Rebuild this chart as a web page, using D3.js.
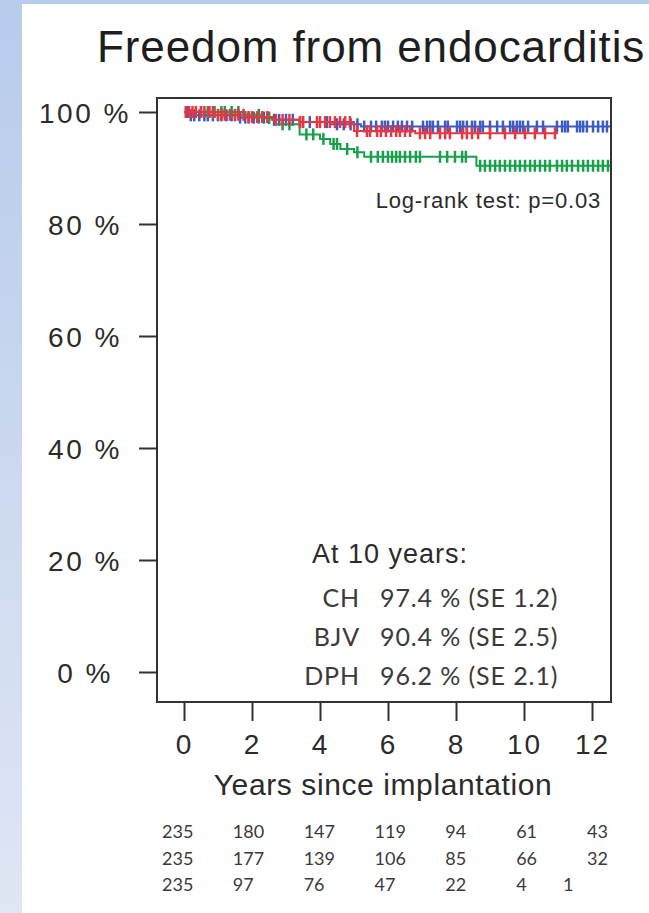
<!DOCTYPE html>
<html>
<head>
<meta charset="utf-8">
<script src="https://cdn.jsdelivr.net/npm/d3@7"></script>
<style>
  html, body { margin: 0; padding: 0; background: #fff; }
  svg { display: block; }
  .axisText { font-family: "Liberation Sans", Arial, sans-serif; fill: #2b2b2b; }
  .calText { font-family: Lato, "Open Sans", sans-serif; fill: #3a3a3a; }
</style>
</head>
<body>
<div id="chart"></div>
<script>
/*global d3*/

// ---- data ----
const groups = ["CH", "BJV", "DPH"];
const yTicks = [0, 20, 40, 60, 80, 100];
const xTicks = [0, 2, 4, 6, 8, 10, 12];

// Kaplan-Meier steps (years, % free)
const chTimes = [0, 0.2, 1.6, 2.6, 3.4, 4.3, 5.2, 12.55];
const chSurv = [100, 99.4, 99.0, 98.6, 98.2, 97.8, 97.4, 97.4];
const bjvTimes = [0, 1.8, 2.3, 2.7, 3.4, 4.0, 4.3, 4.6, 5.0, 5.3, 8.6, 12.55];
const bjvSurv = [100, 99.5, 98.9, 97.8, 96.0, 95.2, 94.3, 93.4, 92.8, 92.0, 90.4, 90.4];
const dphTimes = [0, 0.9, 1.8, 2.6, 3.4, 5.0, 6.8, 11.0];
const dphSurv = [100, 99.5, 99.1, 98.6, 98.2, 96.6, 96.2, 96.2];

// censoring marks (years)
const chCensor = [0.1, 0.2, 0.3, 0.45, 0.6, 0.7, 0.85, 1.0, 1.1, 1.25, 1.4, 1.5, 1.65, 1.8, 1.9,
  2.05, 2.2, 2.35, 2.5, 2.65, 2.8, 3.0, 3.2, 3.5, 3.7, 4.2, 4.5, 4.7, 4.9, 5.1, 5.3, 5.5, 5.65,
  5.82, 5.91, 6.0, 6.15, 6.29, 6.41, 6.56, 6.71, 7.03, 7.15, 7.24, 7.32, 7.47, 7.68, 7.76,
  8.03, 8.12, 8.21, 8.32, 8.47, 8.56, 8.71, 8.79, 9.0, 9.21, 9.38, 9.59, 9.68, 9.79, 9.88,
  9.97, 10.12, 10.38, 10.56, 10.97, 11.12, 11.21, 11.29, 11.56, 11.65, 11.74, 11.85,
  12.03, 12.18, 12.32, 12.44];
const bjvCensor = [0.5, 0.7, 0.9, 1.1, 1.2, 1.4, 1.6, 2.2, 2.5, 2.9, 3.1, 3.6, 3.8, 4.1, 4.4,
  4.5, 4.8, 5.1, 5.5, 5.7, 5.85, 6.0, 6.12, 6.24, 6.35, 6.5, 6.65, 6.82, 6.94, 7.53, 7.74,
  7.97, 8.18, 8.29, 8.71, 8.85, 9.0, 9.15, 9.29, 9.44, 9.59, 9.74, 9.88, 10.03, 10.18,
  10.32, 10.47, 10.62, 10.76, 10.97, 11.12, 11.26, 11.41, 11.59, 11.74, 11.88, 12.03,
  12.18, 12.32, 12.47];
const dphCensor = [0.05, 0.15, 0.25, 0.35, 0.5, 0.6, 0.75, 0.85, 1.0, 1.1, 1.2, 1.35, 1.5,
  1.6, 1.75, 1.9, 2.0, 2.15, 2.3, 2.45, 2.7, 2.9, 3.1, 3.41, 3.5, 3.91, 4.0, 4.15, 4.29,
  4.44, 4.59, 4.74, 4.88, 5.09, 5.38, 5.47, 5.68, 5.79, 5.94, 6.09, 6.24, 6.35, 6.5, 6.65,
  6.94, 7.09, 7.24, 7.53, 7.68, 7.82, 8.18, 8.32, 8.47, 8.65, 9.0, 9.44, 9.74, 10.03,
  10.32, 10.62, 10.91];

// summary at 10 years
const summaryLabels = ["CH", "BJV", "DPH"];
const summaryValues = ["97.4 % (SE 1.2)", "90.4 % (SE 2.5)", "96.2 % (SE 2.1)"];

// numbers at risk
const atRiskYears = [0, 2, 4, 6, 8, 10, 12];
const atRiskCH = [235, 180, 147, 119, 94, 61, 43];
const atRiskBJV = [235, 177, 139, 106, 85, 66, 32];
const atRiskDPH = [235, 97, 76, 47, 22, 4, 1];

// ---- drawing ----
const W = 649, H = 913;
const COLORS = { CH: "#3b5cc4", BJV: "#16a04a", DPH: "#e8363f" };

let svg = d3.select("#chart").append("svg")
  .attr("width", W)
  .attr("height", H);

// blue slide background strip
let grad = svg.append("defs").append("linearGradient")
  .attr("id", "bg").attr("x1", 0).attr("y1", 0).attr("x2", 0).attr("y2", 1);
grad.append("stop").attr("offset", "0%").attr("stop-color", "#b7cbeb");
grad.append("stop").attr("offset", "100%").attr("stop-color", "#dfe6f4");
svg.append("rect").attr("x", 0).attr("y", 0).attr("width", W).attr("height", H).attr("fill", "url(#bg)");
svg.append("rect").attr("x", 22).attr("y", 4).attr("width", W - 22).attr("height", H - 4).attr("fill", "#fff");

// plot box
let box = { left: 157, right: 611, top: 98, bottom: 702 };

let x = d3.scaleLinear().domain([0, 12]).range([184, 592]);
let y = d3.scaleLinear().domain([0, 100]).range([672, 112]);

// title
svg.append("text")
  .attr("class", "axisText")
  .attr("x", 97).attr("y", 62)
  .style("font-size", "44px")
  .style("letter-spacing", "0.9px")
  .style("fill", "#1e1e1e")
  .text("Freedom from endocarditis");

// y axis
let yAxis = svg.append("g")
  .attr("transform", "translate(" + box.left + ",0)")
  .call(d3.axisLeft(y).tickValues(yTicks).tickSize(18).tickFormat(d => d + " %"));
yAxis.select(".domain").remove();
yAxis.selectAll(".tick line").attr("stroke", "#333").attr("stroke-width", 2);
yAxis.selectAll(".tick text")
  .attr("class", "axisText")
  .attr("x", -72)
  .attr("dy", "0.36em")
  .style("text-anchor", "middle")
  .style("letter-spacing", "2.5px")
  .style("font-size", "28px");

// x axis
let xAxis = svg.append("g")
  .attr("transform", "translate(0," + box.bottom + ")")
  .call(d3.axisBottom(x).tickValues(xTicks).tickSize(19));
xAxis.select(".domain").remove();
xAxis.selectAll(".tick line").attr("stroke", "#333").attr("stroke-width", 2);
xAxis.selectAll(".tick text")
  .attr("class", "axisText")
  .attr("y", 52).attr("dy", 0)
  .style("letter-spacing", "2px")
  .style("font-size", "28px");

svg.append("text")
  .attr("class", "axisText")
  .attr("x", 383).attr("y", 795)
  .style("text-anchor", "middle")
  .style("letter-spacing", "0.6px")
  .style("font-size", "30px")
  .text("Years since implantation");

// curves
let line = d3.line()
  .x(d => x(d[0]))
  .y(d => y(d[1]))
  .curve(d3.curveStepAfter);

let series = [
  { key: "CH", times: chTimes, surv: chSurv, censor: chCensor },
  { key: "BJV", times: bjvTimes, surv: bjvSurv, censor: bjvCensor },
  { key: "DPH", times: dphTimes, surv: dphSurv, censor: dphCensor }
];

// survival value at time t for a step function
let survAt = function (s, t) {
  let v = s.surv[0];
  for (let i = 0; i < s.times.length; i++) {
    if (s.times[i] <= t) v = s.surv[i];
  }
  return v;
};

series.forEach(function (s) {
  let pts = s.times.map((t, i) => [t, s.surv[i]]);
  let g = svg.append("g");
  g.append("path")
    .attr("d", line(pts))
    .attr("fill", "none")
    .attr("stroke", COLORS[s.key])
    .attr("stroke-width", 2);
  g.selectAll("line.cens")
    .data(s.censor)
    .enter().append("line")
    .attr("x1", d => x(d)).attr("x2", d => x(d))
    .attr("y1", d => y(survAt(s, d)) - 6)
    .attr("y2", d => y(survAt(s, d)) + 6)
    .attr("stroke", COLORS[s.key])
    .attr("stroke-width", 2.5);
});

// box on top
svg.append("rect")
  .attr("x", box.left).attr("y", box.top)
  .attr("width", box.right - box.left).attr("height", box.bottom - box.top)
  .attr("fill", "none").attr("stroke", "#333").attr("stroke-width", 2);

// log-rank text
svg.append("text")
  .attr("class", "axisText")
  .attr("x", 601).attr("y", 208)
  .style("text-anchor", "end")
  .style("letter-spacing", "0.8px")
  .style("font-size", "22px")
  .text("Log-rank test: p=0.03");

// at 10 years box
svg.append("text")
  .attr("class", "axisText")
  .attr("x", 312).attr("y", 563)
  .style("letter-spacing", "1px")
  .style("font-size", "27px")
  .text("At 10 years:");

summaryLabels.forEach(function (lab, i) {
  svg.append("text")
    .attr("class", "calText")
    .attr("x", 360).attr("y", 607 + i * 39)
    .style("text-anchor", "end")
    .style("letter-spacing", "0.9px")
    .style("font-size", "25px")
    .text(lab);
  svg.append("text")
    .attr("class", "calText")
    .attr("x", 380).attr("y", 607 + i * 39)
    .style("letter-spacing", "0.9px")
    .style("font-size", "25px")
    .text(summaryValues[i]);
});

// numbers at risk table
let xr = d3.scaleLinear().domain([0, 12]).range([162, 587]);
[atRiskCH, atRiskBJV, atRiskDPH].forEach(function (row, r) {
  svg.selectAll(null)
    .data(row)
    .enter().append("text")
    .attr("class", "calText")
    // last DPH count sits further left in the original table
    .attr("x", (d, i) => xr(atRiskYears[i]) - (r === 2 && i === 6 ? 24 : 0))
    .attr("y", 838 + r * 26.5)
    .style("font-size", "18px")
    .text(d => d);
});
</script>
</body>
</html>
